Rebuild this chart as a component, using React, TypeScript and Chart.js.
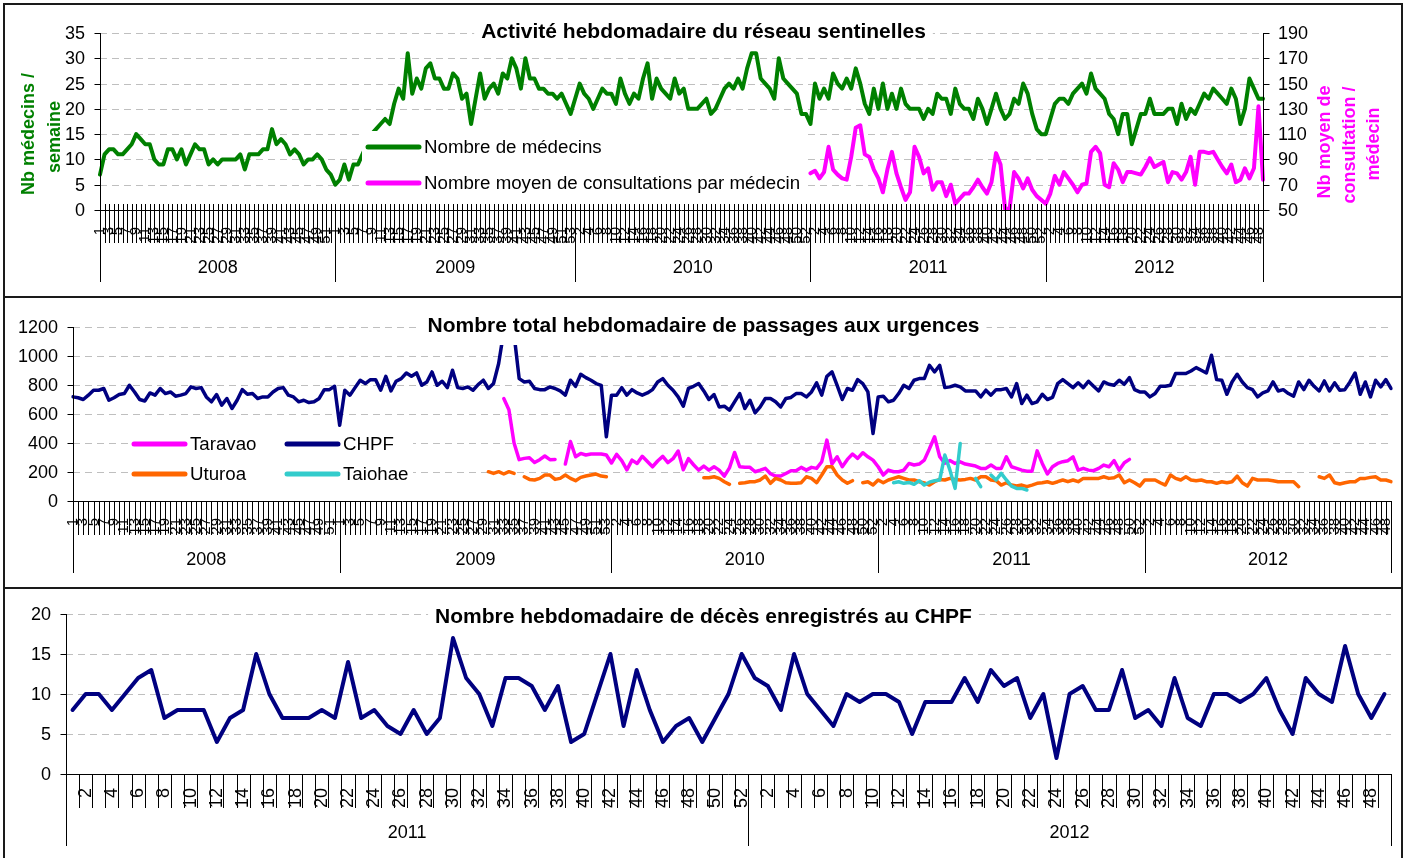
import React, { useEffect, useRef } from 'react';
import { Chart, registerables } from 'chart.js';

Chart.register(...registerables);

// ---------------- categories ----------------
const YEARS_12 = ['2008', '2009', '2010', '2011', '2012'];
const WEEKS_IN_YEAR_12 = [52, 53, 52, 52, 49];
const YEARS_3 = ['2011', '2012'];
const WEEKS_IN_YEAR_3 = [52, 49];

// ---------------- tick labels ----------------
const MED_TICKS = [0, 5, 10, 15, 20, 25, 30, 35];
const CONS_TICKS = [50, 70, 90, 110, 130, 150, 170, 190];
const URG_TICKS = [0, 200, 400, 600, 800, 1000, 1200];
const DECES_TICKS = [0, 5, 10, 15, 20];

// ---------------- texts ----------------
const TITLE_1 = 'Activité hebdomadaire du réseau sentinelles';
const TITLE_2 = 'Nombre total hebdomadaire de passages aux urgences';
const TITLE_3 = 'Nombre hebdomadaire de décès enregistrés au CHPF';
const LEFT_TITLE_1 = ['Nb médecins /', 'semaine'];
const RIGHT_TITLE_1 = ['Nb moyen de', 'consultation /', 'médecin'];

// ---------------- panel 1 : réseau sentinelles ----------------
const MEDECINS_2008 = [7, 11, 12, 12, 11, 11, 12, 13, 15, 14, 13, 13, 10, 9, 9, 12, 12, 10, 12, 9, 11, 13, 12, 12, 9, 10, 9, 10, 10, 10, 10, 11, 8, 11, 11, 11, 12, 12, 16, 13, 14, 13, 11, 12, 11, 9, 10, 10, 11, 10, 8, 7];
const MEDECINS_2009 = [5, 6, 9, 6, 9, 9, 11, 13, 15, 16, 17, 18, 17, 21, 24, 22, 31, 23, 26, 24, 28, 29, 26, 26, 24, 24, 27, 26, 22, 23, 17, 22, 27, 22, 24, 25, 23, 27, 26, 30, 28, 24, 30, 26, 26, 24, 24, 23, 23, 22, 23, 21, 19];
const MEDECINS_2010 = [22, 25, 23, 22, 20, 22, 24, 23, 23, 21, 26, 23, 21, 23, 22, 26, 29, 22, 26, 24, 23, 22, 26, 23, 24, 20, 20, 20, 21, 22, 19, 20, 22, 24, 25, 24, 26, 24, 28, 31, 31, 26, 25, 24, 22, 30, 26, 25, 24, 23, 19, 19];
const MEDECINS_2011 = [17, 25, 22, 24, 22, 27, 25, 24, 26, 24, 28, 25, 21, 19, 24, 20, 25, 20, 23, 20, 24, 21, 20, 20, 20, 18, 20, 19, 23, 22, 22, 19, 24, 21, 20, 20, 18, 22, 20, 17, 20, 23, 20, 18, 19, 22, 21, 25, 23, 19, 16, 15];
const MEDECINS_2012 = [15, 18, 21, 22, 22, 21, 23, 24, 25, 23, 27, 24, 23, 22, 19, 18, 15, 19, 19, 13, 16, 19, 19, 22, 19, 19, 19, 20, 20, 17, 21, 18, 20, 19, 21, 23, 22, 24, 23, 22, 21, 24, 22, 17, 20, 26, 24, 22, 22];

const CONSULT_2011 = [79, 81, 75, 80, 100, 82, 78, 75, 74, 92, 115, 117, 94, 92, 82, 75, 64, 82, 96, 79, 68, 58, 64, 100, 92, 79, 83, 66, 72, 72, 61, 70, 55, 59, 63, 63, 68, 74, 68, 63, 72, 95, 86, 51, 51, 80, 75, 67, 75, 66, 61, 58];
const CONSULT_2012 = [55, 63, 77, 70, 80, 75, 70, 64, 70, 71, 96, 100, 95, 70, 68, 87, 82, 72, 80, 80, 79, 78, 84, 91, 84, 86, 88, 72, 80, 79, 74, 80, 92, 70, 96, 96, 95, 96, 90, 84, 79, 86, 72, 74, 83, 75, 83, 132, 74];

// ---------------- panel 2 : urgences ----------------
const CHPF_2008 = [718, 712, 700, 730, 764, 764, 776, 695, 712, 734, 741, 798, 752, 700, 690, 745, 730, 776, 741, 752, 723, 730, 741, 787, 776, 782, 718, 684, 734, 661, 707, 638, 695, 768, 736, 741, 707, 718, 718, 752, 776, 782, 730, 718, 684, 695, 679, 684, 707, 768, 768, 791];
const CHPF_2009 = [523, 764, 730, 782, 833, 810, 837, 837, 764, 860, 759, 826, 844, 883, 860, 883, 798, 821, 890, 798, 826, 782, 902, 782, 776, 787, 764, 803, 833, 776, 810, 948, 1170, 1300, 1150, 844, 821, 826, 776, 768, 768, 787, 776, 759, 730, 833, 791, 874, 851, 833, 810, 798, 443];
const CHPF_2010 = [730, 730, 782, 730, 768, 745, 730, 745, 768, 821, 844, 798, 764, 718, 654, 776, 791, 810, 759, 700, 734, 649, 654, 626, 684, 741, 638, 695, 608, 649, 707, 707, 684, 649, 707, 714, 741, 741, 718, 752, 815, 730, 860, 890, 798, 700, 776, 764, 837, 810, 752, 466];
const CHPF_2011 = [718, 723, 684, 695, 741, 798, 776, 833, 844, 844, 936, 890, 936, 782, 787, 798, 787, 759, 759, 759, 718, 764, 730, 768, 768, 776, 718, 810, 672, 730, 672, 684, 736, 700, 714, 810, 837, 810, 782, 815, 782, 826, 791, 759, 821, 805, 798, 833, 805, 851, 768, 752];
const CHPF_2012 = [752, 718, 741, 791, 791, 798, 879, 879, 879, 897, 920, 902, 883, 1005, 837, 833, 736, 821, 874, 821, 782, 768, 718, 745, 759, 821, 759, 768, 741, 723, 821, 768, 833, 791, 759, 828, 759, 815, 764, 768, 821, 883, 736, 821, 718, 833, 787, 837, 776];

// Taravao: from 2009 week 33 (category index 84) to 2011 week 50
const TARAVAO_FIRST_INDEX = 84;
const TARAVAO = [707, 630, 400, 285, 294, 298, 265, 285, 310, 285, 287, null, 255, 410, 305, 328, 317, 324, 324, 324, 317,
  262, 322, 278, 215, 282, 259, 308, 272, 236, 276, 308, 265, 292, 345, 215, 292, 250, 213, 241, 213, 236, 213, 172, 228, 335, 236, 232, 232, 202, 213, 225, 188, 172, 172, 190, 209, 209, 232, 213, 232, 225, 271, 420, 255, 305, 236, 287, 324, 294, 333, 305, 282,
  236, 179, 213, 202, 202, 213, 259, 248, 255, 282, 360, 443, 305, 260, 280, 259, 270, 255, 248, 241, 225, 225, 248, 225, 225, 305, 236, 225, 213, 206, 206, 346, 259, 186, 236, 259, 271, 278, 305, 213, 225, 213, 209, 225, 248, 236, 278, 213, 264, 287];

// Uturoa: from 2009 week 30 (category index 81) to the end
const UTUROA_FIRST_INDEX = 81;
const UTUROA = [202, 190, 202, 186, 202, 190, null, 167, 149, 145, 156, 179, 179, 149, 156, 179, 156, 140, 163, 172, 179, 186, 172, 167,
  null, null, null, null, null, null, null, null, null, null, null, null, null, null, null, null, null, null,
  161, 161, 167, 156, 133, 115, null, 122, 126, 133, 133, 145, 172, 122, 156, 145, 126, 122, 122, 126, 167, 156, 126, 179, 236, 236, 179, 145, 122, 140, null, 126, 133, 110,
  145, 126, 145, 156, 167, 156, 145, 145, 133, 125, 110, 133, 149, 145, 156, 149, 145, 149, 156, 145, 167, 167, 145, 140, 110, 126, 110, 103, 110, 99, 110, 122, 126, 133, 122, 133, 145, 133, 145, 133, 156, 156, 156, 156, 167, 156, 160, 179, 126, 145, 126, 103,
  145, 145, 145, 126, 110, 179, 156, 145, 167, 145, 140, 145, 133, 133, 122, 133, 126, 133, 172, 126, 103, 156, 145, 145, 145, 140, 133, 133, 133, 133, 99, null, null, null, 167, 156, 179, 126, 117, 126, 133, 133, 156, 156, 163, 167, 145, 145, 133];

// Taiohae: from 2011 week 4 (category index 160)
const TAIOHAE_FIRST_INDEX = 160;
const TAIOHAE = [126, 133, 122, 128, 115, 140, 110, 130, 140, 145, 317, 213, 87, 397, null, null, 156, 99, null, 179, 145, 190, 145, 103, 87, 87, 76];

// ---------------- panel 3 : décès CHPF ----------------
const DECES_2011 = [8, 10, 10, 8, 10, 12, 13, 7, 8, 8, 8, 4, 7, 8, 15, 10, 7, 7, 7, 8, 7, 14, 7, 8, 6, 5, 8, 5, 7, 17, 12, 10, 6, 12, 12, 11, 8, 11, 4, 5, 10, 15, 6, 13, 8, 4, 6, 7, 4, 7, 10, 15];
const DECES_2012 = [12, 11, 8, 15, 10, 8, 6, 10, 9, 10, 10, 9, 5, 9, 9, 9, 12, 9, 13, 11, 12, 7, 10, 2, 10, 11, 8, 8, 13, 7, 8, 6, 12, 7, 6, 10, 10, 9, 10, 12, 8, 5, 12, 10, 9, 16, 10, 7, 10];

// ---------------- styling ----------------
const FONT = "'Liberation Sans', Arial, Helvetica, sans-serif";
const GREEN = '#008000';
const MAGENTA = '#FF00FF';
const NAVY = '#000080';
const ORANGE = '#FF6600';
const CYAN = '#33CCCC';
const GRID = '#BFBFBF';
const W = 1409;

type Cats = { weeks: number[]; starts: number[]; labels: string[] };

function buildCats(years: string[], counts: number[]): Cats {
  const weeks: number[] = [];
  const starts: number[] = [];
  const labels: string[] = [];
  years.forEach((y, k) => {
    starts.push(weeks.length);
    for (let w = 1; w <= counts[k]; w++) {
      weeks.push(w);
      labels.push(y + '-S' + w);
    }
  });
  return { weeks, starts, labels };
}

function place(total: number, start: number, values: (number | null)[]) {
  const out: (number | null)[] = new Array(total).fill(null);
  values.forEach((v, k) => {
    if (start + k < total) out[start + k] = v;
  });
  return out;
}

function lineDs(label: string, data: (number | null)[], color: string, width: number, axis = 'y') {
  return {
    label,
    data,
    yAxisID: axis,
    borderColor: color,
    backgroundColor: color,
    borderWidth: width,
    pointRadius: 0,
    pointHoverRadius: 0,
    tension: 0,
    fill: false,
    spanGaps: false,
    borderCapStyle: 'round',
    borderJoinStyle: 'round',
  };
}

function hline(ctx: CanvasRenderingContext2D, x1: number, x2: number, y: number) {
  const yy = Math.round(y) + 0.5;
  ctx.beginPath();
  ctx.moveTo(x1, yy);
  ctx.lineTo(x2, yy);
  ctx.stroke();
}
function vline(ctx: CanvasRenderingContext2D, x: number, y1: number, y2: number) {
  const xx = Math.round(x) + 0.5;
  ctx.beginPath();
  ctx.moveTo(xx, y1);
  ctx.lineTo(xx, y2);
  ctx.stroke();
}

function drawGrid(chart: any, scale: any, ticks: number[]) {
  const { ctx, chartArea: a } = chart;
  ctx.save();
  ctx.strokeStyle = GRID;
  ctx.lineWidth = 1;
  ctx.setLineDash([7, 5]);
  ticks.slice(1).forEach((t) => hline(ctx, a.left, a.right, scale.getPixelForValue(t)));
  ctx.restore();
}

function drawYAxis(chart: any, scale: any, ticks: number[], side: 'left' | 'right', ext: number) {
  const { ctx, chartArea: a } = chart;
  const x = side === 'left' ? a.left : a.right;
  const dir = side === 'left' ? -1 : 1;
  ctx.save();
  ctx.setLineDash([]);
  ctx.strokeStyle = '#000';
  ctx.lineWidth = 1;
  vline(ctx, x, a.top, a.bottom + ext);
  ctx.fillStyle = '#000';
  ctx.font = `18px ${FONT}`;
  ctx.textBaseline = 'middle';
  ctx.textAlign = side === 'left' ? 'right' : 'left';
  const xx = Math.round(x) + 0.5;
  ticks.forEach((t) => {
    const y = scale.getPixelForValue(t);
    const yy = Math.round(y) + 0.5;
    ctx.beginPath();
    ctx.moveTo(xx, yy);
    ctx.lineTo(xx + dir * 6, yy);
    ctx.stroke();
    ctx.fillText(String(t), x + dir * 15, y + 1);
  });
  ctx.restore();
}

type CatOpt = {
  onTicks: boolean;
  crossUp: number;
  tickDown: number;
  yearDown: number;
  labelGap: number;
  labelFont: number;
  labelParity: number;
  yearLabelOffset: number;
};

function drawCatAxis(chart: any, cats: Cats, years: string[], o: CatOpt) {
  const { ctx, chartArea: a } = chart;
  const xs = chart.scales.x;
  const n = cats.weeks.length;
  const base = a.bottom;
  ctx.save();
  ctx.setLineDash([]);
  ctx.strokeStyle = '#000';
  ctx.lineWidth = 1;
  hline(ctx, a.left, a.right, base);
  if (o.onTicks) {
    for (let i = 0; i < n; i++) vline(ctx, xs.getPixelForValue(i), Math.round(base) - o.crossUp, base + o.tickDown);
  } else {
    for (let k = 0; k <= n; k++) vline(ctx, xs.getPixelForValue(k - 0.5), Math.round(base) - o.crossUp, base + o.tickDown);
  }
  ctx.fillStyle = '#000';
  ctx.font = `${o.labelFont}px ${FONT}`;
  ctx.textAlign = 'right';
  ctx.textBaseline = 'middle';
  for (let i = 0; i < n; i++) {
    if (i % 2 !== o.labelParity) continue;
    ctx.save();
    ctx.translate(xs.getPixelForValue(i), base + o.labelGap);
    ctx.rotate(-Math.PI / 2);
    ctx.fillText(String(cats.weeks[i]), 0, 0);
    ctx.restore();
  }
  const bnds = o.onTicks
    ? cats.starts.map((s) => xs.getPixelForValue(s)).concat([xs.getPixelForValue(n - 1)])
    : cats.starts.map((s) => xs.getPixelForValue(s - 0.5)).concat([xs.getPixelForValue(n - 0.5)]);
  bnds.forEach((b) => vline(ctx, b, base, base + o.yearDown));
  ctx.font = `18px ${FONT}`;
  ctx.textAlign = 'center';
  years.forEach((y, k) => ctx.fillText(y, (bnds[k] + bnds[k + 1]) / 2, base + o.yearLabelOffset));
  ctx.restore();
}

function drawTitle(chart: any, text: string, cy: number, boxTop: number, boxBottom: number) {
  const { ctx } = chart;
  ctx.save();
  ctx.font = `bold 21px ${FONT}`;
  const w = ctx.measureText(text).width;
  const cx = chart.width / 2 - 1;
  ctx.fillStyle = '#fff';
  ctx.fillRect(cx - w / 2 - 7, boxTop, w + 14, boxBottom - boxTop);
  ctx.fillStyle = '#000';
  ctx.textAlign = 'center';
  ctx.textBaseline = 'middle';
  ctx.fillText(text, cx, cy);
  ctx.restore();
}

function rotText(ctx: CanvasRenderingContext2D, text: string, x: number, y: number, font: string, color: string) {
  ctx.save();
  ctx.translate(x, y);
  ctx.rotate(-Math.PI / 2);
  ctx.font = font;
  ctx.fillStyle = color;
  ctx.textAlign = 'center';
  ctx.textBaseline = 'middle';
  ctx.fillText(text, 0, 0);
  ctx.restore();
}

type LegItem = { text: string; color: string; x: number; y: number };
function drawLegend(chart: any, box: [number, number, number, number], items: LegItem[], lw: number) {
  const { ctx } = chart;
  ctx.save();
  ctx.fillStyle = '#fff';
  ctx.fillRect(box[0], box[1], box[2] - box[0], box[3] - box[1]);
  ctx.setLineDash([]);
  ctx.lineCap = 'round';
  ctx.font = `18.7px ${FONT}`;
  ctx.textAlign = 'left';
  ctx.textBaseline = 'middle';
  items.forEach((it) => {
    ctx.strokeStyle = it.color;
    ctx.lineWidth = lw;
    ctx.beginPath();
    ctx.moveTo(it.x + 2, it.y);
    ctx.lineTo(it.x + 53, it.y);
    ctx.stroke();
    ctx.fillStyle = '#000';
    ctx.fillText(it.text, it.x + 58, it.y + 1);
  });
  ctx.restore();
}

function baseOptions(padding: any, scales: any) {
  return {
    animation: false,
    responsive: false,
    maintainAspectRatio: false,
    devicePixelRatio: 1,
    events: [],
    layout: { padding },
    plugins: { legend: { display: false }, title: { display: false }, tooltip: { enabled: false } },
    scales,
  };
}

const hiddenScale = { grid: { display: false }, border: { display: false }, ticks: { display: false } };

// ---------------- panel builders ----------------
function makePanel1(canvas: HTMLCanvasElement) {
  const cats = buildCats(YEARS_12, WEEKS_IN_YEAR_12);
  const n = cats.weeks.length;
  const medecins = [...MEDECINS_2008, ...MEDECINS_2009, ...MEDECINS_2010, ...MEDECINS_2011, ...MEDECINS_2012];
  const consult = place(n, cats.starts[3], [...CONSULT_2011, ...CONSULT_2012]);
  return new Chart(canvas, {
    type: 'line',
    data: {
      labels: cats.labels,
      datasets: [
        lineDs('Nombre moyen de consultations par médecin', consult, MAGENTA, 4, 'y2'),
        lineDs('Nombre de médecins', medecins, GREEN, 4, 'y'),
      ] as any,
    },
    options: baseOptions({ top: 33, left: 0, right: 0, bottom: 0 }, {
      x: { type: 'category', offset: false, ...hiddenScale, afterFit: (s: any) => { s.height = 87; } },
      y: { type: 'linear', position: 'left', min: 0, max: 35, ...hiddenScale, afterFit: (s: any) => { s.width = 100; } },
      y2: { type: 'linear', position: 'right', min: 50, max: 190, ...hiddenScale, afterFit: (s: any) => { s.width = 146; } },
    }) as any,
    plugins: [
      {
        id: 'panel1deco',
        beforeDatasetsDraw(chart: any) {
          drawGrid(chart, chart.scales.y, MED_TICKS);
        },
        afterDatasetsDraw(chart: any) {
          drawLegend(chart, [362, 131, 806, 200], [
            { text: 'Nombre de médecins', color: GREEN, x: 366, y: 147 },
            { text: 'Nombre moyen de consultations par médecin', color: MAGENTA, x: 366, y: 183 },
          ], 5);
          drawTitle(chart, TITLE_1, 32, 18, 46);
        },
        afterDraw(chart: any) {
          const ctx = chart.ctx;
          drawYAxis(chart, chart.scales.y, MED_TICKS, 'left', 72);
          drawYAxis(chart, chart.scales.y2, CONS_TICKS, 'right', 72);
          drawCatAxis(chart, cats, YEARS_12, {
            onTicks: true, crossUp: 6, tickDown: 33, yearDown: 72, labelGap: 17, labelFont: 15, labelParity: 0, yearLabelOffset: 58,
          });
          const bf = `bold 18px ${FONT}`;
          rotText(ctx, LEFT_TITLE_1[0], 29, 134, bf, GREEN);
          rotText(ctx, LEFT_TITLE_1[1], 55, 137, bf, GREEN);
          rotText(ctx, RIGHT_TITLE_1[0], 1325, 142, bf, MAGENTA);
          rotText(ctx, RIGHT_TITLE_1[1], 1350, 145, bf, MAGENTA);
          rotText(ctx, RIGHT_TITLE_1[2], 1374, 144, bf, MAGENTA);
        },
      },
    ],
  });
}

function makePanel2(canvas: HTMLCanvasElement) {
  const cats = buildCats(YEARS_12, WEEKS_IN_YEAR_12);
  const n = cats.weeks.length;
  const chpf = [...CHPF_2008, ...CHPF_2009, ...CHPF_2010, ...CHPF_2011, ...CHPF_2012];
  return new Chart(canvas, {
    type: 'line',
    data: {
      labels: cats.labels,
      datasets: [
        lineDs('Taiohae', place(n, TAIOHAE_FIRST_INDEX, TAIOHAE), CYAN, 3.5),
        lineDs('Uturoa', place(n, UTUROA_FIRST_INDEX, UTUROA), ORANGE, 3.5),
        lineDs('Taravao', place(n, TARAVAO_FIRST_INDEX, TARAVAO), MAGENTA, 3.5),
        lineDs('CHPF', chpf, NAVY, 3.5),
      ] as any,
    },
    options: baseOptions({ top: 30, left: 0, right: 18, bottom: 0 }, {
      x: { type: 'category', offset: false, ...hiddenScale, afterFit: (s: any) => { s.height = 86; } },
      y: { type: 'linear', position: 'left', min: 0, max: 1200, ...hiddenScale, afterFit: (s: any) => { s.width = 73; } },
    }) as any,
    plugins: [
      {
        id: 'panel2deco',
        beforeDatasetsDraw(chart: any) {
          drawGrid(chart, chart.scales.y, URG_TICKS);
        },
        afterDatasetsDraw(chart: any) {
          drawLegend(chart, [130, 135, 413, 191], [
            { text: 'Taravao', color: MAGENTA, x: 132, y: 147 },
            { text: 'CHPF', color: NAVY, x: 285, y: 147 },
            { text: 'Uturoa', color: ORANGE, x: 132, y: 177 },
            { text: 'Taiohae', color: CYAN, x: 285, y: 177 },
          ], 5);
          drawTitle(chart, TITLE_2, 29, 13, 48);
        },
        afterDraw(chart: any) {
          drawYAxis(chart, chart.scales.y, URG_TICKS, 'left', 72);
          drawCatAxis(chart, cats, YEARS_12, {
            onTicks: true, crossUp: 0, tickDown: 34, yearDown: 72, labelGap: 17, labelFont: 15, labelParity: 0, yearLabelOffset: 59,
          });
        },
      },
    ],
  });
}

function makePanel3(canvas: HTMLCanvasElement) {
  const cats = buildCats(YEARS_3, WEEKS_IN_YEAR_3);
  const deces = [...DECES_2011, ...DECES_2012];
  return new Chart(canvas, {
    type: 'line',
    data: {
      labels: cats.labels,
      datasets: [lineDs('Décès CHPF', deces, NAVY, 4)] as any,
    },
    options: baseOptions({ top: 27, left: 0, right: 18, bottom: 0 }, {
      x: { type: 'category', offset: true, ...hiddenScale, afterFit: (s: any) => { s.height = 84; } },
      y: { type: 'linear', position: 'left', min: 0, max: 20, ...hiddenScale, afterFit: (s: any) => { s.width = 66; } },
    }) as any,
    plugins: [
      {
        id: 'panel3deco',
        beforeDatasetsDraw(chart: any) {
          drawGrid(chart, chart.scales.y, DECES_TICKS);
        },
        afterDatasetsDraw(chart: any) {
          drawTitle(chart, TITLE_3, 30, 15, 44);
        },
        afterDraw(chart: any) {
          drawYAxis(chart, chart.scales.y, DECES_TICKS, 'left', 72);
          drawCatAxis(chart, cats, YEARS_3, {
            onTicks: false, crossUp: 0, tickDown: 34, yearDown: 72, labelGap: 14, labelFont: 18, labelParity: 1, yearLabelOffset: 59,
          });
        },
      },
    ],
  });
}

export default function App() {
  const c1 = useRef<HTMLCanvasElement>(null);
  const c2 = useRef<HTMLCanvasElement>(null);
  const c3 = useRef<HTMLCanvasElement>(null);

  useEffect(() => {
    const charts = [makePanel1(c1.current!), makePanel2(c2.current!), makePanel3(c3.current!)];
    return () => charts.forEach((c) => c.destroy());
  }, []);

  const border = '2px solid #1a1a1a';
  const box = (top: number, height: number): React.CSSProperties => ({
    position: 'absolute', left: 3, top, width: 1400, height, border, boxSizing: 'border-box', pointerEvents: 'none',
  });

  return (
    <div style={{ position: 'fixed', left: 0, top: 0, width: W, height: 858, background: '#fff', overflow: 'hidden' }}>
      <canvas ref={c1} width={W} height={297} style={{ position: 'absolute', left: 0, top: 0 }} />
      <canvas ref={c2} width={W} height={290} style={{ position: 'absolute', left: 0, top: 297 }} />
      <canvas ref={c3} width={W} height={271} style={{ position: 'absolute', left: 0, top: 587 }} />
      <div style={box(3, 295)} />
      <div style={box(296, 293)} />
      <div style={box(587, 290)} />
    </div>
  );
}
